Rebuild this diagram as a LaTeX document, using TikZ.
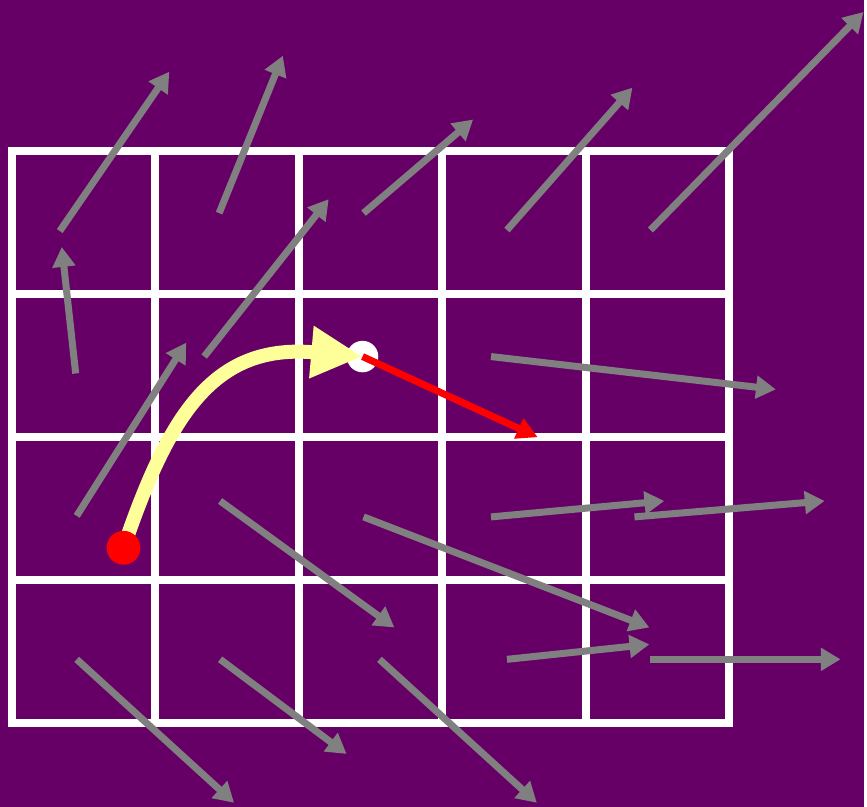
\documentclass[tikz,border=0pt]{standalone}
\usetikzlibrary{arrows.meta}
\definecolor{plum}{HTML}{660066}
\definecolor{fieldgray}{HTML}{808080}
\definecolor{pathyellow}{HTML}{FFFF99}
\begin{document}
\begin{tikzpicture}[x=0.03cm,y=-0.03cm,
  gridline/.style={white, line width=6.8pt, line cap=rect},
  field/.style={fieldgray, line width=6pt, -{Triangle[length=17pt,width=19pt]}}]
\fill[plum] (0,0) rectangle (867,810);
\foreach \gx in {12,156,300,444,588,732} \draw[gridline] (\gx,152) -- (\gx,726);
\foreach \gy in {152,295.5,439,582.5,726} \draw[gridline] (12,\gy) -- (732,\gy);
% sampled field
\draw[field] (60,232) -- (170,72);
\draw[field] (220,214) -- (284,56);
\draw[field] (365,214) -- (475,120);
\draw[field] (509,231) -- (635,88);
\draw[field] (653,231) -- (867,12);
\draw[field] (76,375) -- (62,248);
\draw[field] (205,358) -- (330,200);
\draw[field] (493,358) -- (779,391);
\draw[field] (77,518) -- (187,344);
\draw[field] (221,503) -- (396,630);
\draw[field] (365,519) -- (652,630);
\draw[field] (493,519) -- (667,503);
\draw[field] (637,519) -- (828,503);
\draw[field] (77,662) -- (235,806);
\draw[field] (221,662) -- (348,757);
\draw[field] (381,662) -- (539,806);
\draw[field] (509,662) -- (652,647);
\draw[field] (653,662) -- (844,662);
% trajectory
\coordinate (start) at (124,550);
\node[circle, fill=white, minimum size=27pt, inner sep=0pt] (hit) at (364,358) {};
\draw[pathyellow, line width=12pt, -{Triangle[length=44pt,width=42pt]}]
  (start) .. controls (170,415) and (215,345) .. (hit.center);
\draw[red, line width=6pt, -{Triangle[length=18pt,width=18pt]}] (hit.center) -- (540,439);
\node[circle, fill=red, minimum size=29pt, inner sep=0pt] (seed) at (start) {};
\end{tikzpicture}
\end{document}
